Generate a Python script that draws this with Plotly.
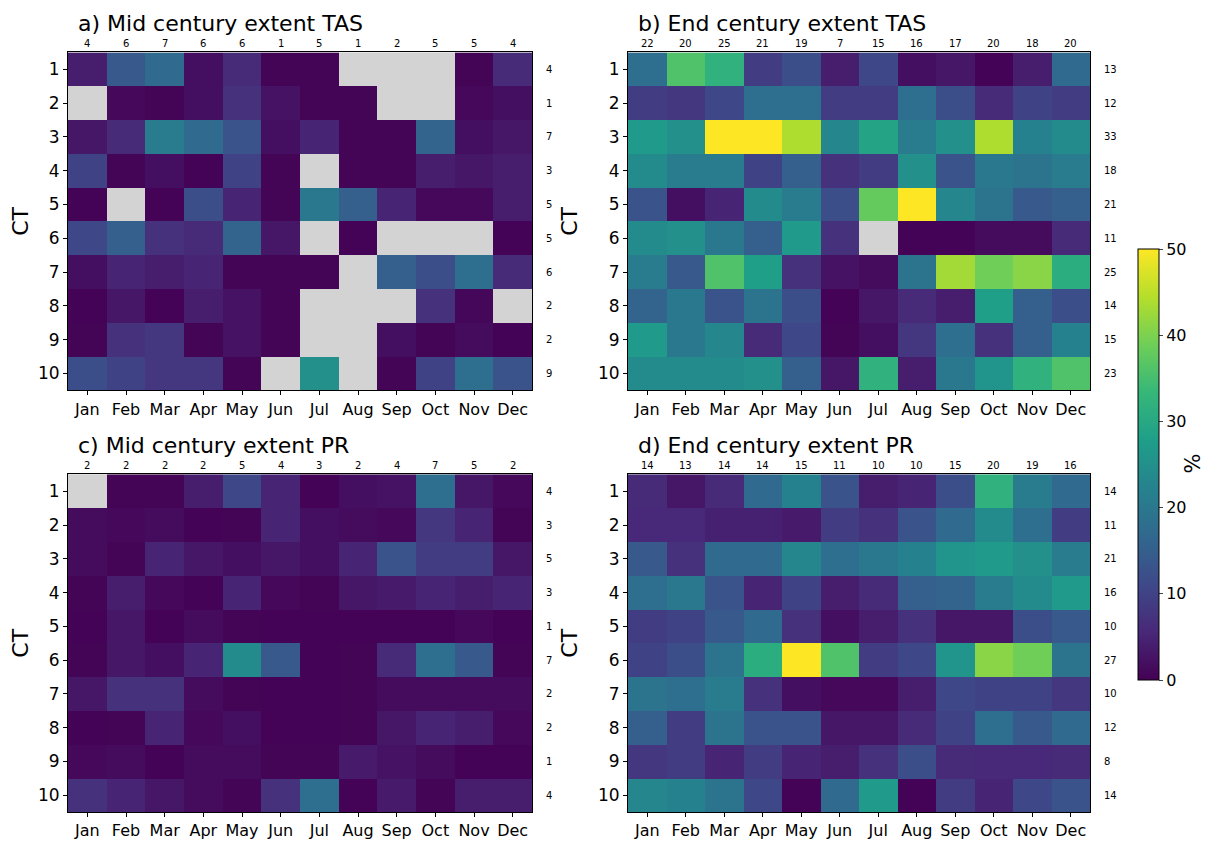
import plotly.graph_objects as go

months = ["Jan", "Feb", "Mar", "Apr", "May", "Jun", "Jul", "Aug", "Sep", "Oct", "Nov", "Dec"]
cts = list(range(1, 11))
N = None

titles = ["a) Mid century extent TAS", "b) End century extent TAS",
          "c) Mid century extent PR", "d) End century extent PR"]

mid_tas = [
    [4, 14, 17, 2, 6, 0.5, 0.5, N, N, N, 0.5, 6],
    [N, 1, 0.5, 2, 7, 2.5, 0.5, 0.5, N, N, 1, 2],
    [3, 6, 21, 17, 13, 2, 5, 0.5, 0.5, 16, 2, 3],
    [10, 0.5, 2, 0.3, 10, 0.5, N, 0.5, 0.5, 4, 3, 4],
    [0.3, N, 0.3, 12, 5, 0.5, 20, 15, 5, 1, 1, 4],
    [11, 15, 7, 6, 16, 3, N, 0.3, N, N, N, 0.3],
    [2, 5, 4, 5, 0.5, 0.5, 0.5, N, 15, 12, 18, 6],
    [0.3, 3, 0.3, 4, 2.5, 0.5, N, N, N, 7, 0.8, N],
    [0.5, 7, 8, 0.5, 2.5, 0.5, N, N, 2, 0.5, 1.5, 0.3],
    [12, 10, 8, 8, 0.5, N, 25, N, 0.5, 10, 18, 13],
]
end_tas = [
    [18, 36, 32, 9, 12, 4, 11, 2, 3, 0.3, 4, 17],
    [9, 8, 11, 18, 18, 9, 9, 18, 12, 6, 10, 9],
    [27, 25, 50, 50, 44, 23, 29, 21, 25, 44, 22, 24],
    [24, 21, 21, 10, 15, 7, 9, 25, 13, 20, 19, 21],
    [13, 2, 5, 24, 21, 12, 38, 50, 23, 19, 14, 15],
    [24, 25, 20, 15, 27, 7, N, 0.3, 0.3, 1.5, 1.5, 6],
    [21, 14, 36, 28, 7, 2.5, 1.5, 19, 43, 39, 41, 31],
    [16, 20, 13, 19, 12, 0.3, 3, 6, 4, 28, 15, 12],
    [27, 20, 23, 6, 11, 0.5, 2, 8, 18, 7, 15, 22],
    [24, 24, 24, 25, 15, 3, 32, 4, 20, 26, 32, 36],
]
mid_pr = [
    [N, 0.5, 0.5, 4, 11, 5, 0.3, 2, 2.5, 18, 3, 1],
    [1.5, 1, 1.5, 0.3, 0.5, 5, 2, 1.5, 1, 8, 5, 0.5],
    [1.5, 0.5, 5, 3, 2, 3, 2, 5, 13, 9, 9, 3],
    [0.5, 4, 1, 0.3, 5, 1, 0.5, 3, 3.5, 5, 4, 5],
    [0.3, 3, 0.3, 1.5, 0.5, 0.3, 0.3, 0.3, 0.3, 0.3, 1, 0.3],
    [0.5, 3, 2, 5, 24, 14, 0.3, 0.5, 6, 18, 14, 0.5],
    [3, 7, 7, 1.5, 0.5, 0.3, 0.3, 0.5, 1.5, 1.5, 1.5, 1.5],
    [0.3, 0.5, 5, 1, 2, 0.3, 0.3, 0.5, 3, 5, 4, 1],
    [1, 1.5, 0.3, 1.5, 1.5, 0.5, 0.5, 3.5, 2.5, 1.5, 0.3, 0.3],
    [7, 5, 3, 1.5, 0.5, 7, 18, 0.3, 3.5, 0.5, 4, 4],
]
end_pr = [
    [6, 3, 6, 17, 22, 13, 4, 5, 12, 32, 21, 17],
    [5.5, 5.5, 4.5, 4.5, 3.5, 9, 7, 13, 17, 24, 18, 9],
    [14, 7, 17, 17, 23, 18, 20, 22, 26, 27, 25, 21],
    [18, 20, 13, 5, 10, 4, 6, 15, 16, 21, 24, 27],
    [9, 10, 14, 17, 7, 2, 4, 7, 3, 3, 12, 14],
    [10, 12, 19, 31, 50, 36, 9, 11, 26, 41, 39, 19],
    [19, 18, 21, 7, 2, 1, 1, 4, 11, 10, 10, 8],
    [15, 9, 19, 13, 13, 3, 3, 6, 10, 18, 14, 17],
    [8, 9, 5, 9, 5, 4, 7, 12, 6, 5.5, 5.5, 6],
    [23, 22, 19, 11, 0.3, 17, 27, 0.3, 9, 5, 11, 13],
]

top_mid_tas = [4, 6, 7, 6, 6, 1, 5, 1, 2, 5, 5, 4]
top_end_tas = [22, 20, 25, 21, 19, 7, 15, 16, 17, 20, 18, 20]
top_mid_pr = [2, 2, 2, 2, 5, 4, 3, 2, 4, 7, 5, 2]
top_end_pr = [14, 13, 14, 14, 15, 11, 10, 10, 15, 20, 19, 16]

right_mid_tas = [4, 1, 7, 3, 5, 5, 6, 2, 2, 9]
right_end_tas = [13, 12, 33, 18, 21, 11, 25, 14, 15, 23]
right_mid_pr = [4, 3, 5, 3, 1, 7, 2, 2, 1, 4]
right_end_pr = [14, 11, 21, 16, 10, 27, 10, 12, 8, 14]

panels = [
    (mid_tas, top_mid_tas, right_mid_tas),
    (end_tas, top_end_tas, right_end_tas),
    (mid_pr, top_mid_pr, right_mid_pr),
    (end_pr, top_end_pr, right_end_pr),
]

# page body has an 8px margin: the figure sits at (8, 8)
OFF = 8
W, H = 1215 - 2 * OFF, 848 - 2 * OFF


def px(x):
    return (x - OFF) / W


def py(y):
    return 1 - (y - OFF) / H


xdoms = [(px(68), px(532)), (px(628), px(1090))]
ydoms = [(py(395), py(53)), (py(822), py(480))]

FONT = "DejaVu Sans"
fig = go.Figure()
annotations = []
layout = {}

for i, (z, top, right) in enumerate(panels):
    col = i % 2
    row = i // 2
    n = i + 1
    xa = "x" if n == 1 else f"x{n}"
    ya = "y" if n == 1 else f"y{n}"
    fig.add_trace(go.Heatmap(
        z=z, x=months, y=cts, xaxis=xa, yaxis=ya,
        colorscale="Viridis", zmin=0, zmax=50,
        showscale=(i == 0),
        hoverongaps=False,
        colorbar=dict(
            x=px(1138), xanchor="left", y=py(252), yanchor="top",
            len=(688 - 252) / H, lenmode="fraction", thickness=21,
            xpad=0, ypad=0,
            outlinewidth=1, outlinecolor="black",
            tickvals=[0, 10, 20, 30, 40, 50], ticks="outside", ticklen=4,
            tickfont=dict(family=FONT, size=16, color="black"),
        ),
    ))
    xk = "xaxis" if n == 1 else f"xaxis{n}"
    yk = "yaxis" if n == 1 else f"yaxis{n}"
    layout[xk] = dict(
        domain=list(xdoms[col]), anchor=ya, type="category",
        showline=True, mirror=True, linecolor="black", linewidth=1,
        ticks="outside", ticklen=4, tickcolor="black",
        tickfont=dict(family=FONT, size=16, color="black"),
        showgrid=False, zeroline=False, fixedrange=True,
    )
    layout[yk] = dict(
        domain=list(ydoms[row]), anchor=xa,
        autorange="reversed", tickvals=cts, ticktext=[str(c) for c in cts],
        showline=True, mirror=True, linecolor="black", linewidth=1,
        ticks="outside", ticklen=4, tickcolor="black",
        tickfont=dict(family=FONT, size=17, color="black"),
        title=dict(text="CT", font=dict(family=FONT, size=22, color="black"), standoff=14),
        showgrid=False, zeroline=False, fixedrange=True,
    )
    x0, x1 = xdoms[col]
    y0, y1 = ydoms[row]
    annotations.append(dict(
        text=titles[i], xref="paper", yref="paper", x=x0 + 8 / W, y=y1 + 15 / H,
        xanchor="left", yanchor="bottom", showarrow=False,
        font=dict(family=FONT, size=22, color="black"),
    ))
    for m, v in zip(months, top):
        annotations.append(dict(
            text=str(v), xref=xa, yref="paper", x=m, y=y1 + 1 / H,
            xanchor="center", yanchor="bottom", showarrow=False,
            font=dict(family=FONT, size=10, color="black"),
        ))
    for c, v in zip(cts, right):
        annotations.append(dict(
            text=str(v), xref="paper", yref=ya, x=x1 + 12 / W, y=c,
            xanchor="left", yanchor="middle", showarrow=False,
            font=dict(family=FONT, size=10, color="black"),
        ))

# colorbar label
annotations.append(dict(
    text="%", xref="paper", yref="paper", x=px(1193), y=py(469),
    xanchor="center", yanchor="middle", textangle=-90, showarrow=False,
    font=dict(family=FONT, size=21, color="black"),
))

fig.update_layout(
    width=W, height=H,
    margin=dict(l=0, r=0, t=0, b=0),
    paper_bgcolor="white", plot_bgcolor="#d3d3d3",
    font=dict(family=FONT, color="black"),
    annotations=annotations,
    **layout,
)

fig.write_html("out.html")
